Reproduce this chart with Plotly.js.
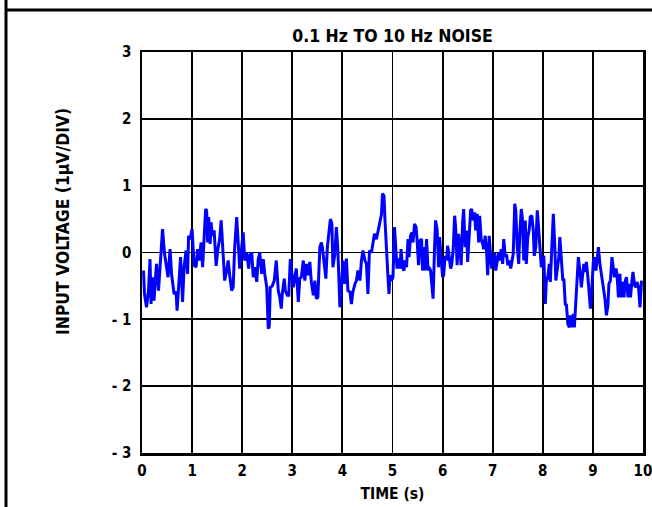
<!DOCTYPE html>
<html>
<head>
<meta charset="utf-8">
<script src="https://cdn.plot.ly/plotly-3.0.1.min.js"></script>
<style>
  html, body { margin: 0; padding: 0; background: #fff; }
  #chart { width: 652px; height: 507px; }
</style>
</head>
<body>
<div id="chart"></div>
<script>
// ---- Data ----
const timeSeconds = [
  0.03,0.05,0.09,0.13,0.16,0.18,0.21,0.24,0.27,0.29,0.33,0.36,0.41,0.45,0.48,0.52,0.56,0.59,0.64,0.68,
  0.70,0.74,0.77,0.81,0.84,0.88,0.91,0.93,0.96,1.00,1.04,1.08,1.11,1.14,1.18,1.21,1.24,1.27,1.29,1.31,
  1.33,1.36,1.38,1.40,1.44,1.48,1.51,1.55,1.58,1.62,1.65,1.69,1.72,1.75,1.79,1.82,1.85,1.89,1.92,1.95,
  1.99,2.02,2.05,2.09,2.13,2.15,2.19,2.22,2.25,2.29,2.32,2.35,2.39,2.42,2.45,2.49,2.52,2.54,2.56,2.60,
  2.64,2.68,2.72,2.75,2.78,2.80,2.84,2.86,2.90,2.93,2.96,2.99,3.02,3.05,3.08,3.12,3.15,3.18,3.22,3.25,
  3.28,3.31,3.35,3.38,3.42,3.45,3.48,3.51,3.55,3.58,3.60,3.63,3.67,3.70,3.73,3.76,3.79,3.81,3.85,3.88,
  3.91,3.95,3.98,4.01,4.04,4.08,4.11,4.15,4.18,4.21,4.25,4.28,4.31,4.35,4.38,4.41,4.45,4.48,4.51,4.54,
  4.58,4.61,4.64,4.68,4.75,4.78,4.80,4.83,4.85,4.88,4.91,4.93,4.95,4.98,5.01,5.04,5.07,5.09,5.12,5.15,
  5.17,5.20,5.23,5.25,5.28,5.31,5.33,5.36,5.39,5.41,5.44,5.47,5.49,5.52,5.55,5.58,5.60,5.63,5.65,5.68,
  5.71,5.73,5.76,5.79,5.81,5.84,5.86,5.89,5.92,5.94,5.97,6.00,6.02,6.05,6.08,6.10,6.13,6.16,6.18,6.21,
  6.24,6.26,6.29,6.32,6.34,6.37,6.40,6.42,6.45,6.48,6.50,6.53,6.56,6.58,6.61,6.64,6.66,6.69,6.72,6.74,
  6.77,6.80,6.82,6.85,6.88,6.90,6.93,6.96,6.98,7.01,7.04,7.06,7.09,7.12,7.14,7.17,7.20,7.22,7.25,7.28,
  7.30,7.33,7.36,7.38,7.41,7.44,7.46,7.49,7.52,7.54,7.57,7.59,7.62,7.65,7.67,7.70,7.73,7.75,7.78,7.81,
  7.83,7.86,7.89,7.91,7.94,7.97,7.99,8.02,8.05,8.07,8.10,8.13,8.15,8.18,8.21,8.24,8.26,8.29,8.32,8.34,
  8.37,8.40,8.42,8.45,8.47,8.50,8.53,8.55,8.58,8.61,8.63,8.66,8.69,8.71,8.74,8.77,8.79,8.82,8.85,8.87,
  8.90,8.93,8.95,8.98,9.01,9.03,9.06,9.09,9.11,9.14,9.17,9.19,9.22,9.24,9.27,9.30,9.32,9.35,9.38,9.40,
  9.43,9.46,9.48,9.51,9.54,9.56,9.59,9.62,9.64,9.67,9.70,9.72,9.75,9.78,9.80,9.83,9.86,9.88,9.91,9.94,
  9.97
];
const inputVoltage = [
  -0.27,-0.62,-0.82,-0.57,-0.10,-0.77,-0.37,-0.72,-0.37,-0.17,-0.57,-0.19,0.35,-0.02,-0.17,-0.37,0.05,-0.32,-0.62,-0.59,
  -0.87,-0.42,-0.07,-0.74,-0.22,0.03,-0.32,0.25,0.20,0.35,-0.19,-0.22,0.05,-0.12,0.15,-0.22,0.28,0.65,0.63,0.15,
  0.53,0.13,0.45,0.25,0.33,-0.20,0.03,0.20,0.48,-0.17,-0.42,-0.27,-0.12,-0.34,-0.57,-0.52,0.08,0.53,0.13,-0.24,
  0.08,0.30,-0.12,0.00,-0.24,-0.05,0.00,-0.37,-0.22,-0.44,-0.10,0.00,-0.32,-0.10,-0.32,-0.52,-1.14,-1.11,-0.52,-0.50,
  -0.42,-0.12,-0.57,-0.67,-0.84,-0.62,-0.39,-0.57,-0.64,-0.64,-0.10,-0.32,-0.52,-0.37,-0.24,-0.74,-0.39,-0.37,-0.12,-0.42,
  -0.17,-0.34,-0.14,-0.44,-0.64,-0.42,-0.69,-0.67,0.08,0.15,0.08,-0.12,-0.39,0.08,0.28,0.50,0.43,-0.22,-0.02,0.38,
  0.03,-0.82,-0.54,-0.12,-0.47,-0.09,-0.57,-0.59,-0.77,-0.59,-0.47,-0.42,-0.27,-0.42,-0.12,0.03,-0.12,-0.17,-0.62,0.03,
  0.00,0.15,0.28,0.20,0.48,0.57,0.88,0.85,0.48,-0.07,-0.37,-0.62,-0.34,-0.42,-0.37,0.38,-0.02,-0.24,-0.09,-0.24,
  0.05,-0.22,-0.27,-0.12,-0.22,0.20,-0.07,0.25,0.30,0.15,0.43,0.38,0.20,-0.19,0.18,0.20,-0.27,0.08,-0.27,0.20,
  -0.27,-0.22,-0.27,-0.57,-0.69,0.08,0.48,0.35,-0.22,0.23,-0.12,-0.37,-0.34,-0.05,-0.12,0.10,-0.05,-0.24,-0.19,0.03,
  0.55,0.38,-0.19,0.28,0.13,-0.19,0.45,0.65,0.08,0.33,-0.14,0.23,0.63,0.65,0.48,0.60,0.33,0.58,0.15,0.55,
  0.20,0.13,0.05,0.25,-0.02,-0.34,0.25,-0.07,-0.24,-0.12,0.00,-0.27,-0.14,0.00,-0.12,0.05,-0.17,0.20,-0.05,-0.05,
  -0.19,-0.12,-0.24,-0.12,-0.02,0.73,0.63,0.08,-0.17,0.28,0.65,0.53,-0.12,0.48,-0.17,0.23,0.35,0.53,0.55,0.33,
  -0.05,0.08,0.63,0.43,0.00,-0.22,-0.19,-0.05,-0.77,-0.42,-0.37,-0.17,-0.44,0.15,0.58,0.08,-0.42,-0.24,-0.07,0.23,
  -0.17,-0.42,-0.39,-0.79,-0.77,-1.07,-1.12,-0.94,-1.12,-0.92,-1.12,-0.74,-0.37,-0.07,-0.27,-0.52,-0.37,-0.17,-0.29,-0.14,
  -0.37,-0.67,-0.84,-0.52,-0.12,-0.07,-0.27,-0.07,0.08,-0.17,-0.34,-0.42,-0.54,-0.69,-0.94,-0.79,-0.47,-0.42,-0.07,-0.24,
  -0.37,-0.24,-0.32,-0.67,-0.32,-0.67,-0.44,-0.67,-0.44,-0.37,-0.67,-0.47,-0.67,-0.42,-0.29,-0.49,-0.52,-0.44,-0.52,-0.82,
  -0.42
];
const xTickValues = [0,1,2,3,4,5,6,7,8,9,10];
const xTickLabels = ["0","1","2","3","4","5","6","7","8","9","10"];
const yTickValues = [-3,-2,-1,0,1,2,3];
const yTickLabels = ["- 3","- 2","- 1","0","1","2","3"];
const chartTitle = "0.1 Hz TO 10 Hz NOISE";
const xAxisTitle = "TIME (s)";
const yAxisTitle = "INPUT VOLTAGE (1µV/DIV)";

// ---- Chart ----
const FONT = '"DejaVu Sans Condensed", "Liberation Sans Narrow", "Arial Narrow", "Liberation Sans", sans-serif';

const trace = {
  x: timeSeconds,
  y: inputVoltage,
  type: 'scatter',
  mode: 'lines',
  line: { color: '#0000ff', width: 3 },
  hoverinfo: 'skip'
};

const axisCommon = {
  showgrid: true,
  gridcolor: '#000000',
  gridwidth: 1.8,
  zeroline: false,
  showline: true,
  linecolor: '#000000',
  linewidth: 2.5,
  mirror: true,
  ticks: '',
  fixedrange: true,
  automargin: false,
  ticklabeloverflow: 'allow',
  tickfont: { family: FONT, size: 15, color: '#000000', weight: 'bold' }
};

const layout = {
  width: 652,
  height: 507,
  paper_bgcolor: '#ffffff',
  plot_bgcolor: '#ffffff',
  showlegend: false,
  margin: { l: 142, r: 9, t: 52, b: 54, pad: 0 },
  font: { family: FONT, color: '#000000' },
  title: {
    text: '<b>' + chartTitle + '</b>',
    font: { family: FONT, size: 17.5, color: '#000000' },
    x: 0.5, xanchor: 'center', xref: 'paper',
    y: 1 - 36 / 507, yanchor: 'middle', yref: 'container'
  },
  xaxis: Object.assign({}, axisCommon, {
    range: [0, 10],
    tickmode: 'array',
    tickvals: xTickValues,
    ticktext: xTickLabels,
    ticklabelstandoff: 2,
    title: { text: '<b>' + xAxisTitle + '</b>', font: { family: FONT, size: 15.5, color: '#000000' }, standoff: 10 }
  }),
  yaxis: Object.assign({}, axisCommon, {
    range: [-3, 3],
    tickmode: 'array',
    tickvals: yTickValues,
    ticktext: yTickLabels,
    ticklabelstandoff: 5
  }),
  annotations: [
    {
      text: '<b>' + yAxisTitle + '</b>',
      textangle: -90,
      xref: 'paper', yref: 'paper',
      x: (63 - 142) / 501, y: (453 - 222) / 401,
      xanchor: 'center', yanchor: 'middle',
      showarrow: false,
      font: { family: FONT, size: 17.4, color: '#000000' }
    }
  ],
  shapes: [
    // outer frame: left vertical rule and top horizontal rule
    { type: 'line', xref: 'paper', yref: 'paper', x0: (6 - 142) / 501, x1: (6 - 142) / 501, y0: (453 - 0) / 401, y1: (453 - 507) / 401, line: { color: '#000000', width: 3 } },
    { type: 'line', xref: 'paper', yref: 'paper', x0: (6 - 142) / 501, x1: (652 - 142) / 501, y0: (453 - 10) / 401, y1: (453 - 10) / 401, line: { color: '#000000', width: 3 } }
  ]
};

Plotly.newPlot('chart', [trace], layout, { staticPlot: true, displayModeBar: false });
</script>
</body>
</html>
